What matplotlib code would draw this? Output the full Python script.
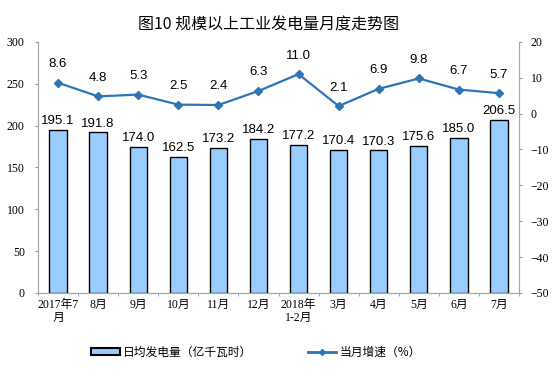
import numpy as np
import matplotlib
matplotlib.use('Agg')
import matplotlib.pyplot as plt
from matplotlib.patches import Patch
from matplotlib.lines import Line2D

plt.rcParams['font.family'] = ['Liberation Serif', 'Noto Sans CJK SC']

months = ['2017年7\n月', '8月', '9月', '10月', '11月', '12月', '2018年\n1-2月',
          '3月', '4月', '5月', '6月', '7月']
daily_output = [195.1, 191.8, 174.0, 162.5, 173.2, 184.2, 177.2,
                170.4, 170.3, 175.6, 185.0, 206.5]
growth = [8.6, 4.8, 5.3, 2.5, 2.4, 6.3, 11.0, 2.1, 6.9, 9.8, 6.7, 5.7]

BAR_COLOR = '#99CCFF'
LINE_COLOR = '#2E75B6'
SANS = ['Liberation Sans', 'Noto Sans CJK SC']
CJK = ['Noto Sans CJK SC', 'DejaVu Sans']

fig = plt.figure(figsize=(5.57, 3.84), dpi=100)
ax = fig.add_axes([0.0682, 0.237, 0.8636, 0.654])
ax2 = ax.twinx()

x = np.arange(len(months))
ax.bar(x, daily_output, width=0.43, color=BAR_COLOR, edgecolor='black', linewidth=1.0, zorder=2)
for xi, v in zip(x, daily_output):
    ax.text(xi, v + 3.5, '%.1f' % v, ha='center', va='bottom', fontsize=9.5, family=SANS)

ax2.plot(x, growth, color=LINE_COLOR, lw=1.6, marker='D', ms=4, zorder=3)
for xi, v in zip(x, growth):
    ax2.text(xi, v + 3.5, '%.1f' % v, ha='center', va='bottom', fontsize=9.5, family=SANS)

ax.set_xlim(-0.5, len(months) - 0.5)
ax.set_ylim(0, 300)
ax.set_yticks(np.arange(0, 301, 50))
ax2.set_ylim(-50, 20)
ax2.set_yticks(np.arange(-50, 21, 10))

ax.set_xticks(x)
ax.set_xticklabels(months, fontsize=8.5, linespacing=1.1)
ax.tick_params(axis='x', length=0, pad=4)
ax.tick_params(axis='y', labelsize=8.5, length=2.5, color='#999999', pad=7)
ax2.tick_params(axis='y', labelsize=8.5, length=2.5, color='#999999', pad=6)
ax.set_xticks(np.arange(-0.5, len(months), 1), minor=True)
ax.tick_params(axis='x', which='minor', length=2, direction='out', color='#999999')

for a in (ax, ax2):
    a.spines['top'].set_visible(False)
    for s in ('left', 'right', 'bottom'):
        a.spines[s].set_color('#A6A6A6')
        a.spines[s].set_linewidth(0.8)

fig.text(0.483, 0.935, '图10 规模以上工业发电量月度走势图', ha='center', va='center',
         fontsize=11.5, family=CJK)

handles = [Patch(facecolor=BAR_COLOR, edgecolor='black', linewidth=1.5),
           Line2D([0], [0], color=LINE_COLOR, lw=2, marker='D', ms=3)]
labels = ['日均发电量（亿千瓦时）', '当月增速（%）']
fig.legend(handles, labels, loc='center', bbox_to_anchor=(0.46, 0.083), ncol=2,
           frameon=False, prop={'family': CJK, 'size': 8.5}, columnspacing=4.7,
           handlelength=2.4, handleheight=0.6, handletextpad=0.3)

fig.savefig('out.png', dpi=100)
